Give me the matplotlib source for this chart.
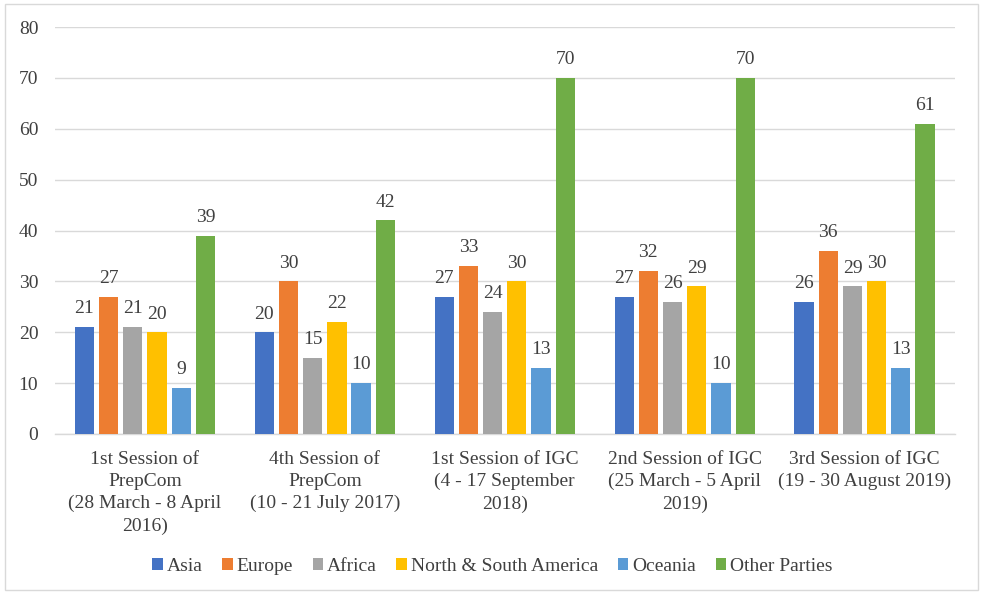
import matplotlib
matplotlib.use("Agg")
import matplotlib.pyplot as plt
import numpy as np
from matplotlib.patches import Rectangle

categories = [
    "1st Session of\nPrepCom\n(28 March - 8 April\n2016)",
    "4th Session of\nPrepCom\n(10 - 21 July 2017)",
    "1st Session of IGC\n(4 - 17 September\n2018)",
    "2nd Session of IGC\n(25 March - 5 April\n2019)",
    "3rd Session of IGC\n(19 - 30 August 2019)",
]
series_names = ["Asia", "Europe", "Africa", "North & South America", "Oceania", "Other Parties"]
asia = [21, 20, 27, 27, 26]
europe = [27, 30, 33, 32, 36]
africa = [21, 15, 24, 26, 29]
americas = [20, 22, 30, 29, 30]
oceania = [9, 10, 13, 10, 13]
others = [39, 42, 70, 70, 61]
values = [asia, europe, africa, americas, oceania, others]
colors = ["#4472C4", "#ED7D31", "#A5A5A5", "#FFC000", "#5B9BD5", "#70AD47"]
yticks = [0, 10, 20, 30, 40, 50, 60, 70, 80]

plt.rcParams['font.family'] = ['Liberation Serif', 'DejaVu Serif']
txt = "#404040"
fs = 14

fig = plt.figure(figsize=(9.81, 5.94), dpi=100)
ax = fig.add_axes([0.056, 0.2694, 0.917, 0.6851])

x = np.arange(len(categories))
pitch = 0.1345
width = 0.107
for i, (name, vals, c) in enumerate(zip(series_names, values, colors)):
    pos = x + (i - 2.5) * pitch
    ax.bar(pos, vals, width, color=c, label=name, zorder=3)
    for p, v in zip(pos, vals):
        ax.annotate(str(v), (p, v), xytext=(0, 7), textcoords="offset points",
                    ha="center", va="bottom", fontsize=fs, color=txt)

ax.set_xlim(-0.5, len(categories) - 0.5)
ax.set_ylim(0, 80)
ax.set_yticks(yticks)
ax.set_xticks(x)
ax.set_xticklabels(categories, fontsize=fs, color=txt, linespacing=1.4)
ax.tick_params(axis='y', labelsize=fs, labelcolor=txt, length=0, pad=12)
ax.tick_params(axis='x', length=0, pad=12)
ax.yaxis.grid(True, color="#D9D9D9", linewidth=1.0, zorder=0)
for s in ["top", "right", "left"]:
    ax.spines[s].set_visible(False)
ax.spines["bottom"].set_color("#D9D9D9")
ax.spines["bottom"].set_linewidth(1.0)

leg = fig.legend(loc="center", bbox_to_anchor=(0.502, 0.047), ncol=6, frameon=False,
                 fontsize=fs, handlelength=0.55, handleheight=0.55, handletextpad=0.2,
                 columnspacing=1.0)
for t in leg.get_texts():
    t.set_color(txt)

fig.patches.append(Rectangle((0.005, 0.006), 0.992, 0.988, transform=fig.transFigure,
                             fill=False, edgecolor="#D9D9D9", linewidth=1.0))

fig.savefig("out.png", dpi=100)
